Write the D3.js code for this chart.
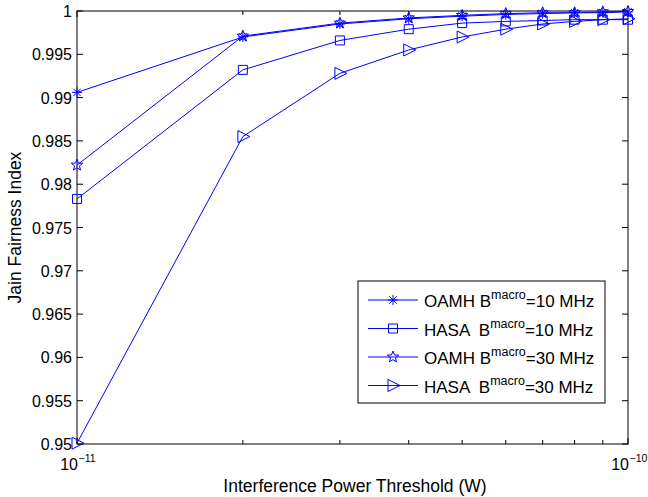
<!DOCTYPE html>
<html>
<head>
<meta charset="utf-8">
<script src="https://cdn.jsdelivr.net/npm/d3@7"></script>
<style>
  body { margin: 0; background: #fff; }
  text { font-family: "Liberation Sans", Arial, sans-serif; fill: #000; }
</style>
</head>
<body>
<div id="chart"></div>
<script>
// x values: multiples of 1e-11 W
const thresholds = [1, 2, 3, 4, 5, 6, 7, 8, 9, 10].map(k => k * 1e-11);
const oamh10 = [0.9906, 0.9970, 0.9985, 0.9991, 0.9994, 0.9996, 0.9997, 0.9998, 0.9998, 0.9999];
const hasa10 = [0.9783, 0.9932, 0.9966, 0.9979, 0.9986, 0.9988, 0.9989, 0.9990, 0.9990, 0.9990];
const oamh30 = [0.9822, 0.9971, 0.9986, 0.9992, 0.9995, 0.9997, 0.9998, 0.9998, 0.9999, 0.99995];
const hasa30 = [0.9501, 0.9855, 0.9928, 0.9955, 0.9970, 0.9979, 0.9985, 0.9988, 0.9990, 0.9991];
const yTicks = [0.95, 0.955, 0.96, 0.965, 0.97, 0.975, 0.98, 0.985, 0.99, 0.995, 1];
const seriesNames = ["OAMH", "HASA ", "OAMH", "HASA "];
const bandwidths = ["=10 MHz", "=10 MHz", "=30 MHz", "=30 MHz"];
const markers = ["asterisk", "square", "star", "triangle"];

const W = 648, H = 497;
const m = { left: 77, right: 20, top: 11, bottom: 53 };
const iw = W - m.left - m.right, ih = H - m.top - m.bottom;

const svg = d3.select("#chart").append("svg").attr("width", W).attr("height", H);
const chart = svg.append("g").attr("transform", `translate(${m.left},${m.top})`);

const x = d3.scaleLog().domain([1e-11, 1e-10]).range([0, iw]);
const y = d3.scaleLinear().domain([0.95, 1]).range([ih, 0]);

// marker shapes
function markerPath(type) {
  const p = d3.path();
  if (type === "asterisk") {
    const r = 5;
    p.moveTo(-r, 0); p.lineTo(r, 0);
    p.moveTo(0, -r); p.lineTo(0, r);
    const d = r * 0.75;
    p.moveTo(-d, -d); p.lineTo(d, d);
    p.moveTo(-d, d); p.lineTo(d, -d);
  } else if (type === "square") {
    p.rect(-4.5, -4.5, 9, 9);
  } else if (type === "star") {
    const ro = 6, ri = 2.6;
    for (let i = 0; i < 10; i++) {
      const r = i % 2 ? ri : ro;
      const a = -Math.PI / 2 + i * Math.PI / 5;
      if (i === 0) p.moveTo(r * Math.cos(a), r * Math.sin(a));
      else p.lineTo(r * Math.cos(a), r * Math.sin(a));
    }
    p.closePath();
  } else {
    p.moveTo(-5, -6); p.lineTo(7, 0); p.lineTo(-5, 6); p.closePath();
  }
  return p.toString();
}

// axes box
chart.append("rect").attr("width", iw).attr("height", ih)
  .attr("fill", "none").attr("stroke", "#000").attr("stroke-width", 1);

// y ticks (inward, both sides)
const tl = 6;
yTicks.forEach(t => {
  chart.append("line").attr("x1", 0).attr("x2", tl).attr("y1", y(t)).attr("y2", y(t)).attr("stroke", "#000");
  chart.append("line").attr("x1", iw).attr("x2", iw - tl).attr("y1", y(t)).attr("y2", y(t)).attr("stroke", "#000");
  chart.append("text").attr("x", -5).attr("y", y(t) + 6).attr("text-anchor", "end")
    .attr("font-size", "16px").text(t === 1 ? "1" : d3.format(".3~f")(t));
});

// x ticks (log major + minor, top and bottom)
x.ticks().forEach(t => {
  const major = Math.abs(Math.log10(t) - Math.round(Math.log10(t))) < 1e-9;
  const len = major ? tl : 4;
  chart.append("line").attr("x1", x(t)).attr("x2", x(t)).attr("y1", ih).attr("y2", ih - len).attr("stroke", "#000");
  chart.append("line").attr("x1", x(t)).attr("x2", x(t)).attr("y1", 0).attr("y2", len).attr("stroke", "#000");
  if (major) {
    chart.append("text").attr("x", x(t) + 1).attr("y", ih + 26).attr("text-anchor", "end")
      .attr("font-size", "16px").text("10");
    chart.append("text").attr("x", x(t) + 1.5).attr("y", ih + 18).attr("font-size", "10.5px")
      .text("\u2212" + Math.abs(Math.round(Math.log10(t))));
  }
});

// series
const allSeries = [oamh10, hasa10, oamh30, hasa30];
const line = d3.line().x((d, i) => x(thresholds[i])).y(d => y(d));
allSeries.forEach((s, k) => {
  chart.append("path").datum(s).attr("d", line)
    .attr("fill", "none").attr("stroke", "#0000ff").attr("stroke-width", 1);
  chart.selectAll(null).data(s).enter().append("path")
    .attr("transform", (d, i) => `translate(${x(thresholds[i])},${y(d)})`)
    .attr("d", markerPath(markers[k]))
    .attr("fill", "none").attr("stroke", "#0000ff").attr("stroke-width", 1);
});

// axis labels
svg.append("text").attr("x", 355).attr("y", 492).attr("text-anchor", "middle")
  .attr("font-size", "17.5px").text("Interference Power Threshold (W)");
svg.append("text").attr("transform", `translate(21,${m.top + ih / 2}) rotate(-90)`)
  .attr("text-anchor", "middle").attr("font-size", "17.5px").text("Jain Fairness Index");

// legend
const legend = svg.append("g").attr("transform", "translate(358,281)");
legend.append("rect").attr("width", 247).attr("height", 122)
  .attr("fill", "#fff").attr("stroke", "#000").attr("stroke-width", 1);
seriesNames.forEach((name, i) => {
  const ly = 19 + i * 28.5;
  legend.append("line").attr("x1", 10).attr("x2", 60).attr("y1", ly).attr("y2", ly)
    .attr("stroke", "#0000ff").attr("stroke-width", 1);
  legend.append("path").attr("transform", `translate(35,${ly})`).attr("d", markerPath(markers[i]))
    .attr("fill", "none").attr("stroke", "#0000ff");
  const t = legend.append("text").attr("x", 66).attr("y", ly + 7).attr("font-size", "17px")
    .style("white-space", "pre");
  t.append("tspan").text(name + " B");
  t.append("tspan").attr("dy", -8).attr("font-size", "12.5px").text("macro");
  t.append("tspan").attr("dy", 8).text(bandwidths[i]);
});
</script>
</body>
</html>
